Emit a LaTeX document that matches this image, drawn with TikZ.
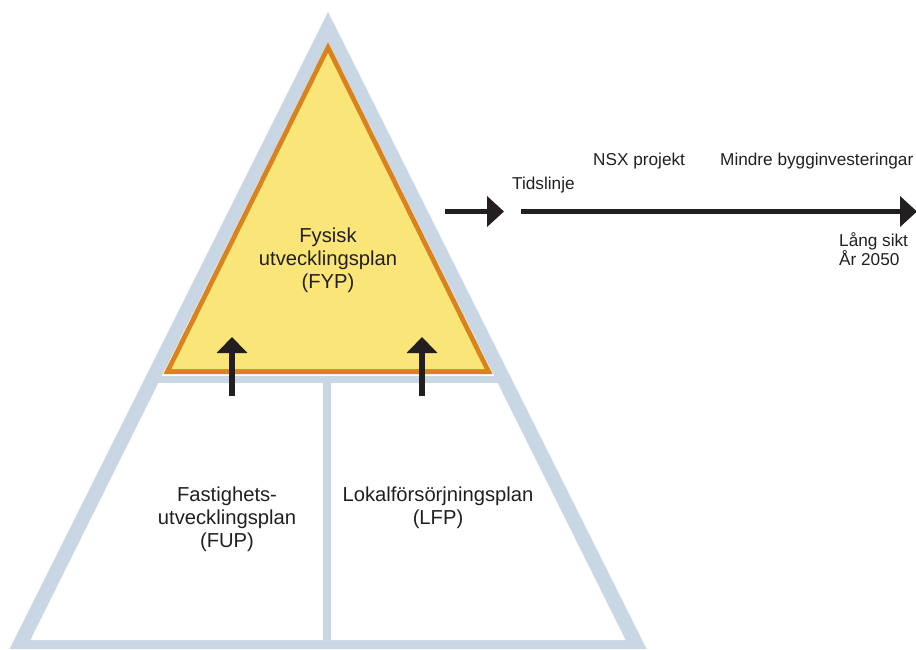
\documentclass[tikz,border=0pt]{standalone}
\usepackage{fontspec}
\setmainfont{Liberation Sans}
\usetikzlibrary{arrows.meta}
\definecolor{bandblue}{RGB}{201,214,228}
\definecolor{rimorange}{RGB}{217,131,30}
\definecolor{fillyellow}{RGB}{250,230,120}
\definecolor{ink}{RGB}{35,31,32}
\begin{document}
\begin{tikzpicture}[x=1pt,y=-1pt,
  bigtext/.style={font=\fontsize{20.2}{23.2}\selectfont, text=ink, align=center, inner sep=0pt},
  smalltext/.style={font=\fontsize{17.2}{18.5}\selectfont, text=ink, inner sep=0pt},
  uparrow/.style={draw=ink, line width=5.5pt, -{Triangle[length=16pt,width=30pt]}},
  rightarrow/.style={draw=ink, line width=5pt, -{Triangle[length=17pt,width=30pt]}}]
\useasboundingbox (0,0) rectangle (916,649);
% pyramid frame
\fill[bandblue] (328,12) -- (9.5,649) -- (646.5,649) -- cycle;
\fill[white] (328,42) -- (30.5,640) -- (625.5,640) -- cycle;
\fill[bandblue] (155,376) rectangle (501,383);
\fill[bandblue] (323,383) rectangle (331,640);
% top triangle
\fill[rimorange] (328,42) -- (163.5,374) -- (492.5,374) -- cycle;
\fill[fillyellow] (328,53) -- (171.5,369) -- (484.5,369) -- cycle;
% texts
\node[bigtext] (fyp) at (328,260) {Fysisk\\utvecklingsplan\\(FYP)};
\node[bigtext] (fup) at (227,519) {Fastighets-\\utvecklingsplan\\(FUP)};
\node[bigtext] (lfp) at (438,508) {Lokalförsörjningsplan\\(LFP)};
% up arrows
\coordinate (upLfrom) at (232,396);
\coordinate (upLto) at (232,337);
\coordinate (upRfrom) at (422,396);
\coordinate (upRto) at (422,337);
\draw[uparrow] (upLfrom) -- (upLto);
\draw[uparrow] (upRfrom) -- (upRto);
% timeline
\coordinate (shortfrom) at (445,211.5);
\coordinate (shortto) at (504,211.5);
\coordinate (tlfrom) at (521,211.5);
\coordinate (tlto) at (917,211.5);
\draw[rightarrow] (shortfrom) -- (shortto);
\draw[rightarrow] (tlfrom) -- (tlto);
\node[smalltext, anchor=base west] (tid) at (512,189) {Tidslinje};
\node[smalltext, anchor=base west] (nsx) at (593,165) {NSX projekt};
\node[smalltext, anchor=base west] (mindre) at (720,165) {Mindre bygginvesteringar};
\node[smalltext, anchor=south west, align=left] (lang) at (839,266) {Lång sikt\\År 2050};
\end{tikzpicture}
\end{document}
